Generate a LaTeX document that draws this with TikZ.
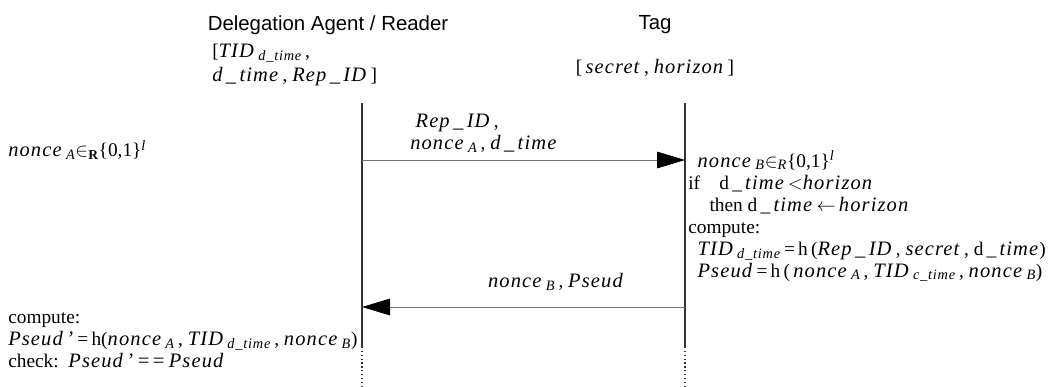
\documentclass[tikz,border=0pt]{standalone}
\usepackage{fontspec}
\setmainfont{Liberation Serif}[ItalicFeatures={Scale=1.06, LetterSpace=5.5}]
\setsansfont{Liberation Sans}
\usetikzlibrary{arrows.meta,positioning}
\newcommand\sub[1]{\textsubscript{\itshape #1}}
\newcommand\und{\,\_\,}
\tikzset{
  actor/.style={font=\sffamily\fontsize{15.3}{18}\selectfont, inner sep=0pt},
  txt/.style={font=\fontsize{14.5}{16.5}\selectfont, align=left, inner sep=0pt},
  life/.style={line width=0.9pt, black!80},
  msg/.style={line width=0.6pt, black!55, -{Triangle[length=21pt,width=12.5pt,color=black]}}}

\begin{document}
\begin{tikzpicture}[x=0.75pt, y=-0.75pt]
  \useasboundingbox (0,0) rectangle (1056,386);
  % participants
  \node[actor] (agent) at (328,25) {Delegation Agent / Reader};
  \node[actor] (tag) at (655,25) {Tag};
  \node[txt, anchor=west, font=\fontsize{14.5}{18.5}\selectfont] (agstate) at (212,65) {[\textit{TID}\,\sub{d\_time}\,,\\\textit{d\und time}\,, \textit{Rep\und ID}\,]};
  \node[txt] (tagstate) at (655,68) {[\,\textit{secret}\,, \textit{horizon}\,]};
  % lifelines
  \coordinate (agtop) at (362,103);
  \coordinate (agdot) at (362,347);
  \coordinate (agbot) at (362,386);
  \coordinate (tgtop) at (685,103);
  \coordinate (tgdot) at (685,347);
  \coordinate (tgbot) at (685,386);
  \draw[life] (agtop) -- (agdot);
  \draw[life, dotted] (agdot) -- (agbot);
  \draw[life] (tgtop) -- (tgdot);
  \draw[life, dotted] (tgdot) -- (tgbot);
  % messages
  \coordinate (m1a) at (agtop |- 0,160);
  \coordinate (m1b) at (tgtop |- 0,160);
  \coordinate (m2a) at (tgtop |- 0,307);
  \coordinate (m2b) at (agtop |- 0,307);
  \draw[msg] (m1a) -- (m1b);
  \draw[msg] (m2a) -- (m2b);
  \node[txt, anchor=west] (m1lab) at (410,133) {\hspace*{4pt}\textit{Rep\und ID}\,,\\\textit{nonce}\,\sub{A}\,, \textit{d\und time}};
  \node[txt] (m2lab) at (556,282) {\textit{nonce}\,\sub{B}\,, \textit{Pseud}};
  % computations
  \node[txt, anchor=west] (agnonce) at (8,150) {\textit{nonce}\,\sub{A}$\in$\textsubscript{\bfseries R}\{0,1\}\textsuperscript{\itshape l}};
  \node[txt, anchor=west] (tgcalc) at (688,216) {\hspace*{7pt}\textit{nonce}\,\sub{B}$\in$\sub{R}\{0,1\}\textsuperscript{\itshape l}\\
    if\quad d\und\textit{time}\,$<$\textit{horizon}\\
    \hspace*{16pt}then d\und\textit{time}\,$\leftarrow$\,\textit{horizon}\\
    compute:\\
    \hspace*{7pt}\textit{TID}\,\sub{d\_time}\,=\,h\,(\textit{Rep\und ID}\,, \textit{secret}\,, d\und\textit{time})\\
    \hspace*{7pt}\textit{Pseud}\,=\,h\,(\,\textit{nonce}\,\sub{A}\,, \textit{TID}\,\sub{c\_time}\,, \textit{nonce}\,\sub{B})};
  \node[txt, anchor=west] (agcheck) at (8,340) {compute:\\
    \textit{Pseud\,'}\,=\,h(\textit{nonce}\,\sub{A}\,, \textit{TID}\,\sub{d\_time}\,, \textit{nonce}\,\sub{B})\\
    check:\enspace\textit{Pseud\,'\,==\,Pseud}};
\end{tikzpicture}
\end{document}
